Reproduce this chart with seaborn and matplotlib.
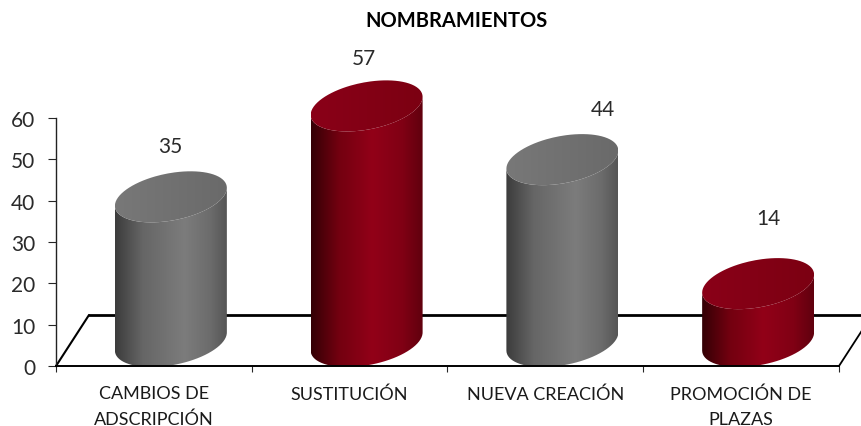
import numpy as np
import pandas as pd
import matplotlib
matplotlib.use("Agg")
import matplotlib.pyplot as plt
import seaborn as sns
from matplotlib.colors import LinearSegmentedColormap
from matplotlib.patches import PathPatch
from matplotlib.path import Path

# Data
categories = ["CAMBIOS DE\nADSCRIPCIÓN", "SUSTITUCIÓN", "NUEVA CREACIÓN", "PROMOCIÓN DE\nPLAZAS"]
values = [35, 57, 44, 14]
y_ticks = [0, 10, 20, 30, 40, 50, 60]

df = pd.DataFrame({"categoria": categories, "valor": values})

sns.set_style("white")
plt.rcParams["font.family"] = ["Lato", "DejaVu Sans"]

grey_cmap = LinearSegmentedColormap.from_list(
    "grey3d", [(0, "#3c3c3c"), (0.25, "#666666"), (0.62, "#7c7c7c"), (0.85, "#6c6c6c"), (1, "#565656")])
red_cmap = LinearSegmentedColormap.from_list(
    "red3d", [(0, "#340005"), (0.25, "#730010"), (0.55, "#920018"), (0.82, "#800014"), (1, "#60000e")])
bar_cmaps = [grey_cmap, red_cmap, grey_cmap, red_cmap]
top_colors = [("#787878", "#6a6a6a"), ("#8a0018", "#7c0012"), ("#787878", "#6a6a6a"), ("#8a0018", "#7c0012")]

W, H = 862, 427
fig = plt.figure(figsize=(W / 100, H / 100), dpi=100)
ax = fig.add_axes([56 / W, (H - 367) / H, 783 / W, 248 / H])

sns.barplot(data=df, x="categoria", y="valor", hue="categoria", palette=["#707070", "#8f0018"] * 2,
            width=0.572, legend=False, ax=ax)

px_x = 1 / 195.75  # one pixel in x data units
px_y = 60 / 248    # one pixel in y data units

# 3D look settings
depth_x = 17 * px_x
base_y = 24.5 * px_y
shear = 9 * px_y
minor = 23.9 * px_y

# label offsets in pixels from the top of each cylinder, placed by hand in the original
label_dx = [-1, -3, 41, 10]
label_dy = [51, 48, 51, 66]


def edge(cx, cy, a, t):
    return np.column_stack([cx + a * np.cos(t), cy + shear * np.cos(t) + minor * np.sin(t)])


for i, patch in enumerate(ax.patches):
    patch.set_visible(False)
    a = patch.get_width() / 2
    cx = patch.get_x() + a + depth_x
    top = patch.get_height() + base_y

    # body of the cylinder
    low = np.linspace(np.pi, 2 * np.pi, 80)
    body = np.vstack([edge(cx, base_y, a, low), edge(cx, top, a, low)[::-1]])
    clip = PathPatch(Path(np.vstack([body, body[:1]])), transform=ax.transData, fc="none", ec="none")
    ax.add_patch(clip)
    im = ax.imshow(np.linspace(0, 1, 256)[None, :], cmap=bar_cmaps[i], aspect="auto", zorder=3,
                   extent=[cx - a, cx + a, 0, top + 8])
    im.set_clip_box(fig.bbox)
    im.set_clip_path(clip)

    # lid
    whole = np.linspace(0, 2 * np.pi, 160)
    lid = PathPatch(Path(edge(cx, top, a, whole)), transform=ax.transData, fc="none", ec="none")
    ax.add_patch(lid)
    lid_cmap = LinearSegmentedColormap.from_list("lid", top_colors[i])
    im2 = ax.imshow(np.linspace(0, 1, 64)[None, :], cmap=lid_cmap, aspect="auto", zorder=4,
                    extent=[cx - a, cx + a, top - 8, top + 8])
    im2.set_clip_box(fig.bbox)
    im2.set_clip_path(lid)

    ax.annotate(str(int(patch.get_height())), (cx, top), xytext=(label_dx[i], label_dy[i]),
                textcoords="offset pixels", ha="center", va="center", fontsize=15,
                color="#2a2a2a", annotation_clip=False)

ax.set_xlim(-0.5, 3.5)
ax.set_ylim(0, 60)

# Floor of the 3D chart
floor_y = 51 * px_y
floor_x = 33 * px_x
ax.plot([-0.5, -0.5 + floor_x], [0, floor_y], color="black", lw=1.5, clip_on=False, zorder=1)
ax.plot([-0.5 + floor_x, 3.5 + floor_x], [floor_y, floor_y], color="black", lw=2.0, clip_on=False, zorder=1)
ax.plot([3.5, 3.5 + floor_x], [0, floor_y], color="black", lw=1.3, clip_on=False, zorder=1)

sns.despine(ax=ax)
ax.spines["left"].set_linewidth(1.0)
ax.spines["left"].set_color("#222222")
ax.spines["bottom"].set_linewidth(1.4)
ax.spines["bottom"].set_color("black")
ax.spines["bottom"].set_zorder(5)

ax.set_xlabel("")
ax.set_ylabel("")
ax.set_yticks(y_ticks)
ax.tick_params(axis="y", left=True, length=5.8, width=0.8, labelsize=15, pad=9, labelcolor="#2a2a2a")

# ticks sit between the categories, labels in the middle of each one
ax.set_xticks(np.arange(-0.5, 4.0, 1.0), labels=[""] * 5)
ax.set_xticks(range(len(categories)), labels=categories, minor=True)
ax.tick_params(axis="x", which="major", bottom=True, length=4.5, width=0.8)
ax.tick_params(axis="x", which="minor", bottom=False, length=0, pad=13.7, labelsize=13, labelcolor="#1a1a1a")
for lab in ax.get_xticklabels(minor=True):
    lab.set_linespacing(1.72)

fig.text(457 / W, 1 - 21 / H, "NOMBRAMIENTOS", ha="center", va="center", fontsize=14.5, fontweight="bold", color="black")

fig.savefig("out.png", dpi=100)
